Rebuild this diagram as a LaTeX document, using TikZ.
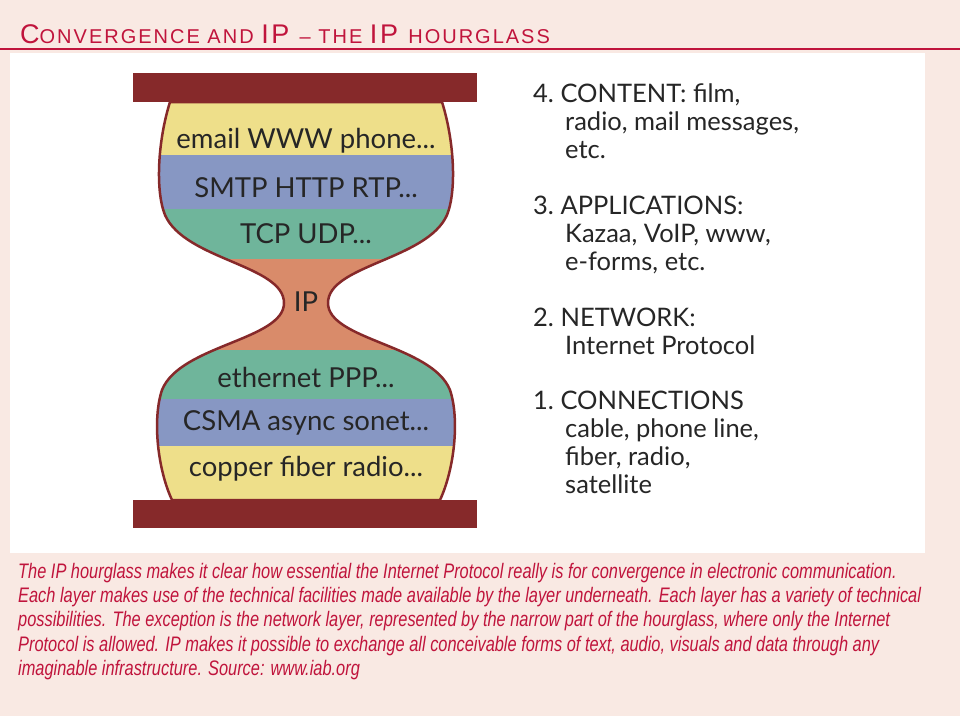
\documentclass[tikz,border=0pt]{standalone}
\usepackage{fontspec}
\setmainfont{Lato}
\newfontfamily\capfont[LetterSpace=10]{Liberation Sans}
\newfontfamily\capnarrow[FakeStretch=0.78]{Liberation Sans}
\definecolor{bgpink}{HTML}{F9E9E3}
\definecolor{cred}{HTML}{C0143C}
\definecolor{maroon}{HTML}{86292A}
\definecolor{hy}{HTML}{EEDF8A}
\definecolor{hb}{HTML}{8797C3}
\definecolor{hg}{HTML}{6FB59B}
\definecolor{ho}{HTML}{D98B6A}
\begin{document}
\begin{tikzpicture}[x=1pt,y=-1pt,
  band/.style={font=\fontsize{27.5}{30}\selectfont, text=black!85},
  side/.style={anchor=north west, align=left, font=\fontsize{25.5}{28}\selectfont, text=black!85, inner sep=0pt},
  capline/.style={anchor=west, inner sep=0pt, text=cred, font=\capnarrow\itshape\fontsize{21}{24}\selectfont}]
\useasboundingbox (0,0) rectangle (960,716);
\fill[bgpink] (0,0) rectangle (960,716);
\fill[white] (10,53) rectangle (925,553);
\draw[cred, line width=1.5] (0,49) -- (960,49);
\node[anchor=base west, inner sep=0pt, text=cred] (title) at (20,43)
  {\capfont\fontsize{27}{27}\selectfont C\fontsize{20}{20}\selectfont ONVERGENCE AND \fontsize{27}{27}\selectfont IP \fontsize{20}{20}\selectfont – THE \fontsize{27}{27}\selectfont IP \fontsize{20}{20}\selectfont HOURGLASS};
% hourglass
\def\hg{(170,102) .. controls (158,140) and (155,190) .. (165,215) .. controls (185,260) and (284,265) .. (284,303) .. controls (284,340) and (180,345) .. (162,390) .. controls (152,420) and (158,470) .. (172,500) -- (440,500) .. controls (454,470) and (460,420) .. (450,390) .. controls (432,345) and (328,340) .. (328,303) .. controls (328,265) and (427,260) .. (447,215) .. controls (457,190) and (454,140) .. (442,102) -- cycle}
\begin{scope}
\clip \hg;
\fill[hy] (100,90) rectangle (500,155);
\fill[hb] (100,155) rectangle (500,209);
\fill[hg] (100,209) rectangle (500,259);
\fill[ho] (100,259) rectangle (500,350);
\fill[hg] (100,350) rectangle (500,399);
\fill[hb] (100,399) rectangle (500,446);
\fill[hy] (100,446) rectangle (500,510);
\end{scope}
\draw[maroon, line width=2.5] \hg;
\fill[maroon] (133,73) rectangle (477,102);
\fill[maroon] (133,500) rectangle (477,528);
\node[band] (l7) at (306,141) {email WWW phone...};
\node[band] (l6) at (306,188) {SMTP HTTP RTP...};
\node[band] (l5) at (306,234) {TCP UDP...};
\node[band] (l4) at (306,302) {IP};
\node[band] (l3) at (306,377) {ethernet PPP...};
\node[band] (l2) at (306,423) {CSMA async sonet...};
\node[band] (l1) at (306,469) {copper fiber radio...};
% right list
\node[side] (c4) at (533,84) {4.~CONTENT: film,\\\hspace{32pt}radio, mail messages,\\\hspace{32pt}etc.};
\node[side] (c3) at (533,196) {3.~APPLICATIONS:\\\hspace{32pt}Kazaa, VoIP, www,\\\hspace{32pt}e-forms, etc.};
\node[side] (c2) at (533,308) {2.~NETWORK:\\\hspace{32pt}Internet Protocol};
\node[side] (c1) at (533,391) {1.~CONNECTIONS\\\hspace{32pt}cable, phone line,\\\hspace{32pt}fiber, radio,\\\hspace{32pt}satellite};
% caption
\node[capline] (p1) at (18,573) {The IP hourglass makes it clear how essential the Internet Protocol really is for convergence in electronic communication.};
\node[capline] (p2) at (18,597) {Each layer makes use of the technical facilities made available by the layer underneath. Each layer has a variety of technical};
\node[capline] (p3) at (18,621) {possibilities. The exception is the network layer, represented by the narrow part of the hourglass, where only the Internet};
\node[capline] (p4) at (18,646) {Protocol is allowed. IP makes it possible to exchange all conceivable forms of text, audio, visuals and data through any};
\node[capline] (p5) at (18,670) {imaginable infrastructure. Source: www.iab.org};
\end{tikzpicture}
\end{document}
